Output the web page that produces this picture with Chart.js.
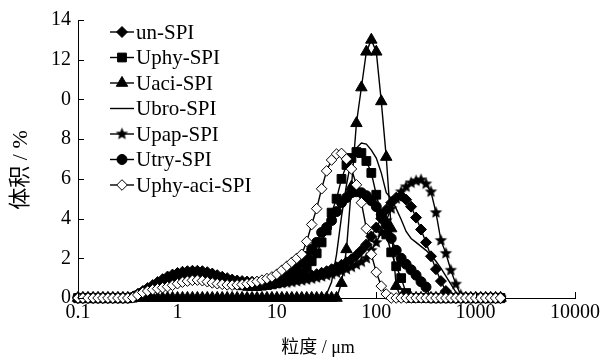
<!DOCTYPE html>
<html>
<head>
<meta charset="utf-8">
<script src="https://cdn.jsdelivr.net/npm/chart.js@4.4.0/dist/chart.umd.min.js"></script>
<style>
  html, body { margin: 0; padding: 0; background: #fff; }
</style>
</head>
<body>
<canvas id="grafico" width="603" height="360"></canvas>
<script>
// tamaños de particula (um)
const sizes = [
  0.1, 0.112, 0.126, 0.142, 0.159, 0.178, 0.2, 0.224, 0.252, 0.283,
  0.317, 0.356, 0.399, 0.448, 0.502, 0.564, 0.632, 0.71, 0.796, 0.893,
  1.002, 1.125, 1.262, 1.416, 1.589, 1.783, 2, 2.244, 2.518, 2.825,
  3.17, 3.557, 3.991, 4.477, 5.024, 5.637, 6.325, 7.096, 7.962, 8.934,
  10.02, 11.25, 12.62, 14.16, 15.89, 17.83, 20, 22.44, 25.18, 28.25,
  31.7, 35.57, 39.91, 44.77, 50.24, 56.37, 63.25, 70.96, 79.62, 89.34,
  100.2, 112.5, 126.2, 141.6, 158.9, 178.3, 200, 224.4, 251.8, 282.5,
  317, 355.7, 399.1, 447.7, 502.4, 563.7, 632.5, 709.6, 796.2, 893.4,
  1002, 1125, 1262, 1416, 1589, 1783
];

const unSPI = [
  0, 0, 0, 0, 0, 0, 0, 0, 0, 0,
  0, 0.05, 0.2, 0.35, 0.5, 0.65, 0.8, 0.95, 1.08, 1.18,
  1.26, 1.32, 1.35, 1.37, 1.37, 1.35, 1.3, 1.23, 1.15, 1.07,
  1.0, 0.93, 0.88, 0.85, 0.83, 0.82, 0.82, 0.83, 0.84, 0.86,
  0.88, 0.9, 0.93, 0.96, 1.0, 1.04, 1.09, 1.14, 1.2, 1.27,
  1.35, 1.45, 1.55, 1.67, 1.8, 1.95, 2.15, 2.4, 2.7, 3.1,
  3.55, 4.0, 4.45, 4.8, 5.05, 5.15, 4.95, 4.6, 4.05, 3.45,
  2.8, 2.1, 1.45, 0.85, 0.35, 0.05, 0, 0, 0, 0,
  0, 0, 0, 0, 0, 0
];

const uphySPI = [
  0, 0, 0, 0, 0, 0, 0, 0, 0, 0,
  0, 0.02, 0.12, 0.25, 0.38, 0.5, 0.62, 0.74, 0.85, 0.95,
  1.03, 1.1, 1.15, 1.18, 1.19, 1.17, 1.12, 1.05, 0.97, 0.89,
  0.81, 0.74, 0.68, 0.64, 0.61, 0.6, 0.6, 0.62, 0.65, 0.69,
  0.75, 0.8, 0.87, 0.95, 1.05, 1.2, 1.55, 1.85, 2.25, 2.8,
  3.4, 4.3, 5.0, 6.0, 6.7, 7.05, 7.35, 7.3, 6.9, 6.3,
  5.2, 4.2, 3.2, 2.3, 1.6, 1.0, 0.25, 0, 0, 0,
  0, 0, 0, 0, 0, 0, 0, 0, 0, 0,
  0, 0, 0, 0, 0, 0
];

const uaciSPI = [
  0, 0, 0, 0, 0, 0, 0, 0, 0, 0,
  0, 0, 0, 0, 0, 0, 0, 0, 0, 0,
  0, 0, 0, 0, 0, 0, 0, 0, 0, 0,
  0, 0, 0, 0, 0, 0, 0, 0, 0, 0,
  0, 0, 0, 0, 0, 0, 0, 0, 0, 0,
  0, 0, 0, 0.75, 2.45, 5.6, 8.8, 10.6, 12.4, 13.0,
  12.4, 9.9, 7.1, 3.5, 0.6, 0, 0, 0, 0, 0,
  0, 0, 0, 0, 0, 0, 0, 0, 0, 0,
  0, 0, 0, 0, 0, 0
];

const ubroSPI = [
  0, 0, 0, 0, 0, 0, 0, 0, 0, 0,
  0, 0, 0, 0, 0, 0, 0, 0, 0, 0,
  0, 0, 0, 0, 0, 0, 0, 0, 0, 0,
  0, 0, 0, 0, 0, 0, 0, 0, 0, 0,
  0, 0, 0, 0, 0, 0, 0, 0, 0, 0,
  0.2, 0.8, 2.2, 4.1, 5.7, 7.0, 7.55, 7.8, 7.75, 7.45,
  7.05, 6.3, 5.3, 5.0, 4.5, 3.95, 3.35, 3.0, 2.8, 2.6,
  2.4, 2.15, 1.85, 1.5, 1.1, 0.7, 0.3, 0, 0, 0,
  0, 0, 0, 0, 0, 0
];

const upapSPI = [
  0, 0, 0, 0, 0, 0, 0, 0, 0, 0,
  0, 0.03, 0.15, 0.3, 0.45, 0.6, 0.75, 0.88, 1.0, 1.1,
  1.18, 1.24, 1.28, 1.3, 1.3, 1.28, 1.23, 1.16, 1.08, 1.0,
  0.92, 0.85, 0.79, 0.74, 0.71, 0.69, 0.68, 0.68, 0.69, 0.7,
  0.72, 0.74, 0.77, 0.8, 0.84, 0.88, 0.92, 0.97, 1.02, 1.08,
  1.14, 1.2, 1.27, 1.35, 1.45, 1.56, 1.68, 1.82, 2.0, 2.4,
  2.8, 3.3, 3.9, 4.5, 5.0, 5.35, 5.6, 5.8, 5.9, 5.95,
  5.75, 5.35, 4.3, 2.9, 2.25, 1.4, 0.7, 0.15, 0, 0,
  0, 0, 0, 0, 0, 0
];

const utrySPI = [
  0, 0, 0, 0, 0, 0, 0, 0, 0, 0,
  0, 0.03, 0.15, 0.28, 0.42, 0.55, 0.68, 0.8, 0.92, 1.02,
  1.1, 1.17, 1.22, 1.25, 1.25, 1.23, 1.18, 1.11, 1.03, 0.95,
  0.87, 0.8, 0.74, 0.69, 0.66, 0.65, 0.66, 0.69, 0.74, 0.8,
  0.85, 0.95, 1.08, 1.25, 1.5, 1.8, 2.1, 2.45, 2.8, 3.3,
  3.55, 3.9, 4.35, 4.8, 5.05, 5.3, 5.35, 5.3, 5.15, 4.9,
  4.6, 4.2, 3.7, 3.0, 2.4, 2.0, 1.7, 1.42, 1.15, 0.82,
  0.55, 0, 0, 0, 0, 0, 0, 0, 0, 0,
  0, 0, 0, 0, 0, 0
];

const uphyAciSPI = [
  0, 0, 0, 0, 0, 0, 0, 0, 0, 0,
  0, 0.02, 0.15, 0.28, 0.35, 0.42, 0.47, 0.52, 0.57, 0.64,
  0.72, 0.8, 0.85, 0.89, 0.9, 0.87, 0.82, 0.76, 0.72, 0.69,
  0.66, 0.65, 0.66, 0.68, 0.72, 0.77, 0.83, 0.9, 0.98, 1.06,
  1.2, 1.4, 1.6, 1.8, 2.0, 2.2, 2.85, 3.7, 4.5, 5.5,
  6.4, 6.95, 7.25, 7.28, 7.0, 6.5, 5.7, 4.8, 3.5, 2.2,
  1.3, 0.6, 0.2, 0, 0, 0, 0, 0, 0, 0,
  0, 0, 0, 0, 0, 0, 0, 0, 0, 0,
  0, 0, 0, 0, 0, 0
];

const seriesNames = ['un-SPI', 'Uphy-SPI', 'Uaci-SPI', 'Ubro-SPI', 'Upap-SPI', 'Utry-SPI', 'Uphy-aci-SPI'];
const seriesValues = [unSPI, uphySPI, uaciSPI, ubroSPI, upapSPI, utrySPI, uphyAciSPI];

const yTickVals = [0, 2, 4, 6, 8, 10, 12, 14];
const yTickText = ['0', '2', '4', '6', '8', '0', '12', '14']; // asi viene en la figura
const xTickVals = [0.1, 1, 10, 100, 1000, 10000];
const xTickText = ['0.1', '1', '10', '100', '1000', '10000'];

const fuente = '"Liberation Serif", "Times New Roman", serif';

// estrella rellena para Upap-SPI
function estrella(r) {
  const c = document.createElement('canvas');
  const d = Math.ceil(r * 2) + 2;
  c.width = d; c.height = d;
  const g = c.getContext('2d');
  g.fillStyle = '#000';
  g.beginPath();
  for (let k = 0; k < 10; k++) {
    const rr = k % 2 ? r * 0.45 : r;
    const a = -Math.PI / 2 + k * Math.PI / 5;
    const px = d / 2 + rr * Math.cos(a), py = d / 2 + rr * Math.sin(a);
    if (k === 0) g.moveTo(px, py); else g.lineTo(px, py);
  }
  g.closePath();
  g.fill();
  return c;
}
const star = estrella(6.5);

// estilo de marcador de cada serie
const marcas = [
  { style: 'rectRot', r: 5.5, fill: '#000' },
  { style: 'rect', r: 6.2, fill: '#000' },
  { style: 'triangle', r: 6.6, fill: '#000' },
  { style: null, r: 0, fill: '#000' },
  { style: star, r: 6.5, fill: '#000' },
  { style: 'circle', r: 5, fill: '#000' },
  { style: 'rectRot', r: 5.3, fill: '#fff' }
];

let datasets = seriesNames.map((nombre, i) => ({
  label: nombre,
  data: sizes.map((s, j) => ({ x: s, y: seriesValues[i][j] })),
  borderColor: '#000',
  borderWidth: 1.4,
  tension: 0,
  pointStyle: marcas[i].style || 'circle',
  pointRadius: marcas[i].r,
  pointBackgroundColor: marcas[i].fill,
  pointBorderColor: '#000',
  pointBorderWidth: 1,
  clip: false,
  order: seriesNames.length - i  // la ultima serie queda arriba
}));

function dibujaMarca(ctx, m, x, y) {
  ctx.fillStyle = m.fill;
  ctx.strokeStyle = '#000';
  ctx.lineWidth = 1;
  if (m.style === null) return;
  if (m.style instanceof HTMLCanvasElement) {
    ctx.drawImage(m.style, x - m.style.width / 2, y - m.style.height / 2);
    return;
  }
  ctx.beginPath();
  if (m.style === 'rectRot') {
    ctx.moveTo(x, y - m.r); ctx.lineTo(x + m.r, y); ctx.lineTo(x, y + m.r); ctx.lineTo(x - m.r, y);
    ctx.closePath();
  } else if (m.style === 'rect') {
    const s = Math.SQRT1_2 * m.r;
    ctx.rect(x - s, y - s, 2 * s, 2 * s);
  } else if (m.style === 'triangle') {
    ctx.moveTo(x, y - m.r);
    ctx.lineTo(x + Math.sin(2 * Math.PI / 3) * m.r, y + 0.5 * m.r);
    ctx.lineTo(x - Math.sin(2 * Math.PI / 3) * m.r, y + 0.5 * m.r);
    ctx.closePath();
  } else {
    ctx.arc(x, y, m.r, 0, Math.PI * 2);
  }
  ctx.fill();
  ctx.stroke();
}

// ticks hacia adentro, leyenda y titulos
const extras = {
  id: 'extras',
  afterDraw(chart) {
    const ctx = chart.ctx;
    const xs = chart.scales.x, ys = chart.scales.y;
    ctx.save();
    ctx.strokeStyle = '#000';
    ctx.lineWidth = 1;
    yTickVals.forEach(v => {
      const py = Math.round(ys.getPixelForValue(v)) + 0.5;
      ctx.beginPath(); ctx.moveTo(xs.left, py); ctx.lineTo(xs.left + 6, py); ctx.stroke();
    });
    xTickVals.forEach(v => {
      const px = Math.round(xs.getPixelForValue(v)) + 0.5;
      ctx.beginPath(); ctx.moveTo(px, ys.bottom); ctx.lineTo(px, ys.bottom - 6); ctx.stroke();
    });

    // leyenda
    ctx.font = '21px ' + fuente;
    ctx.textBaseline = 'middle';
    ctx.textAlign = 'left';
    seriesNames.forEach((nombre, i) => {
      const y = 32 + i * 25.5;
      ctx.strokeStyle = '#000';
      ctx.lineWidth = 1.4;
      ctx.beginPath(); ctx.moveTo(110, y); ctx.lineTo(134, y); ctx.stroke();
      dibujaMarca(ctx, marcas[i], 122, y);
      ctx.fillStyle = '#000';
      ctx.fillText(nombre, 136, y + 1);
    });

    // titulos de ejes
    ctx.fillStyle = '#000';
    ctx.textAlign = 'center';
    ctx.font = '18px ' + fuente + ', "Noto Sans CJK SC"';
    ctx.fillText('粒度 / μm', 318, 348);
    ctx.translate(21, 170);
    ctx.rotate(-Math.PI / 2);
    ctx.font = '22px ' + fuente + ', "Noto Sans CJK SC"';
    ctx.fillText('体积 / %', 0, 0);
    ctx.restore();
  }
};

new Chart(document.getElementById('grafico'), {
  type: 'line',
  data: { datasets: datasets },
  options: {
    responsive: false,
    animation: false,
    layout: { padding: { left: 0, right: 28, top: 20, bottom: 0 } },
    plugins: { legend: { display: false }, tooltip: { enabled: false } },
    scales: {
      x: {
        type: 'logarithmic',
        min: 0.1,
        max: 10000,
        afterBuildTicks: s => { s.ticks = xTickVals.map(v => ({ value: v })); },
        afterFit: s => { s.height = 62; },
        ticks: {
          callback: (v, i) => xTickText[i],
          color: '#000',
          font: { family: fuente, size: 20 },
          padding: 3,
          maxRotation: 0,
          autoSkip: false
        },
        grid: { display: false, drawTicks: false },
        border: { display: true, color: '#000', width: 1 }
      },
      y: {
        min: 0,
        max: 14,
        afterBuildTicks: s => { s.ticks = yTickVals.map(v => ({ value: v })); },
        afterFit: s => { s.width = 78; },
        ticks: {
          callback: (v, i) => yTickText[i],
          color: '#000',
          font: { family: fuente, size: 20 },
          padding: 7
        },
        grid: { display: false, drawTicks: false },
        border: { display: true, color: '#000', width: 1 }
      }
    }
  },
  plugins: [extras]
});
</script>
</body>
</html>
